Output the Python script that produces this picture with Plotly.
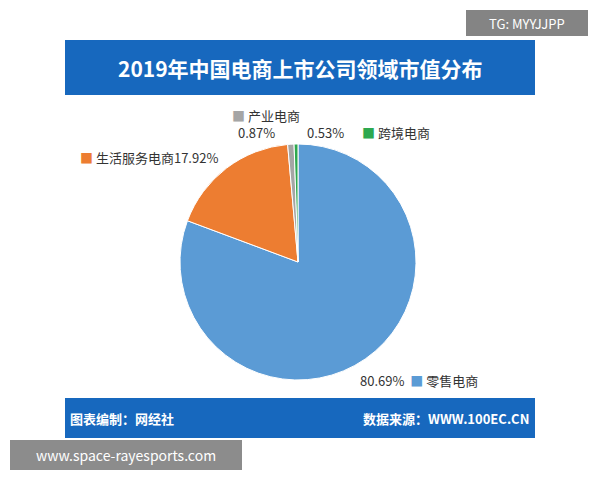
import plotly.graph_objects as go

labels = ["零售电商", "生活服务电商", "产业电商", "跨境电商"]
values = [80.69, 17.92, 0.87, 0.53]
colors = ["#5B9BD5", "#ED7D31", "#A5A5A5", "#2EA84F"]

W, H = 600, 480
def px(x): return x / W
def py(y): return 1 - y / H

fig = go.Figure(go.Pie(
    labels=labels, values=values, sort=False, direction="clockwise", rotation=0,
    marker=dict(colors=colors, line=dict(color="white", width=1)),
    textinfo="none", hoverinfo="label+percent", showlegend=False,
    domain=dict(x=[px(180), px(416)], y=[py(380), py(144)]),
))

shapes = [
    dict(type="rect", xref="paper", yref="paper", x0=px(65), x1=px(535), y0=py(95), y1=py(40),
         fillcolor="#1768BE", line=dict(width=0), layer="below"),
    dict(type="rect", xref="paper", yref="paper", x0=px(65), x1=px(535), y0=py(438), y1=py(398),
         fillcolor="#1768BE", line=dict(width=0), layer="below"),
    dict(type="rect", xref="paper", yref="paper", x0=px(466), x1=px(588), y0=py(36), y1=py(10),
         fillcolor="rgba(110,110,110,0.85)", line=dict(width=0)),
    dict(type="rect", xref="paper", yref="paper", x0=px(10), x1=px(242), y0=py(470), y1=py(440),
         fillcolor="rgba(120,120,120,0.85)", line=dict(width=0)),
]
font = "Noto Sans CJK SC"
def ann(x, y, t, size=13, color="#333", xa="left", bold=False):
    return dict(x=px(x), y=py(y), xref="paper", yref="paper", text=("<b>%s</b>" % t) if bold else t,
                showarrow=False, xanchor=xa, yanchor="middle", font=dict(family=font, size=size, color=color))

anns = [
    ann(300, 68, "2019年中国电商上市公司领域市值分布", 21, "white", "center", True),
    ann(230, 115, "<span style='color:#A5A5A5'>■</span> 产业电商"),
    ann(236, 132, "0.87%"),
    ann(305, 132, "0.53%"),
    ann(360, 132, "<span style='color:#2EA84F'>■</span> 跨境电商"),
    ann(78, 157, "<span style='color:#ED7D31'>■</span> 生活服务电商17.92%"),
    ann(358, 380, "80.69%  <span style='color:#5B9BD5'>■</span> 零售电商"),
    ann(68, 418, "图表编制：网经社", 13, "white", bold=True),
    ann(531, 418, "数据来源：WWW.100EC.CN", 13, "white", "right", True),
    ann(527, 23, "TG: MYYJJPP", 13, "white", "center"),
    ann(126, 455, "www.space-rayesports.com", 14, "white", "center"),
]

fig.update_layout(width=W, height=H, margin=dict(l=0, r=0, t=0, b=0),
                  paper_bgcolor="white", plot_bgcolor="white", shapes=shapes, annotations=anns)
fig.write_html("out.html", post_script="document.body.style.margin='0';",
               config={"displayModeBar": False})
